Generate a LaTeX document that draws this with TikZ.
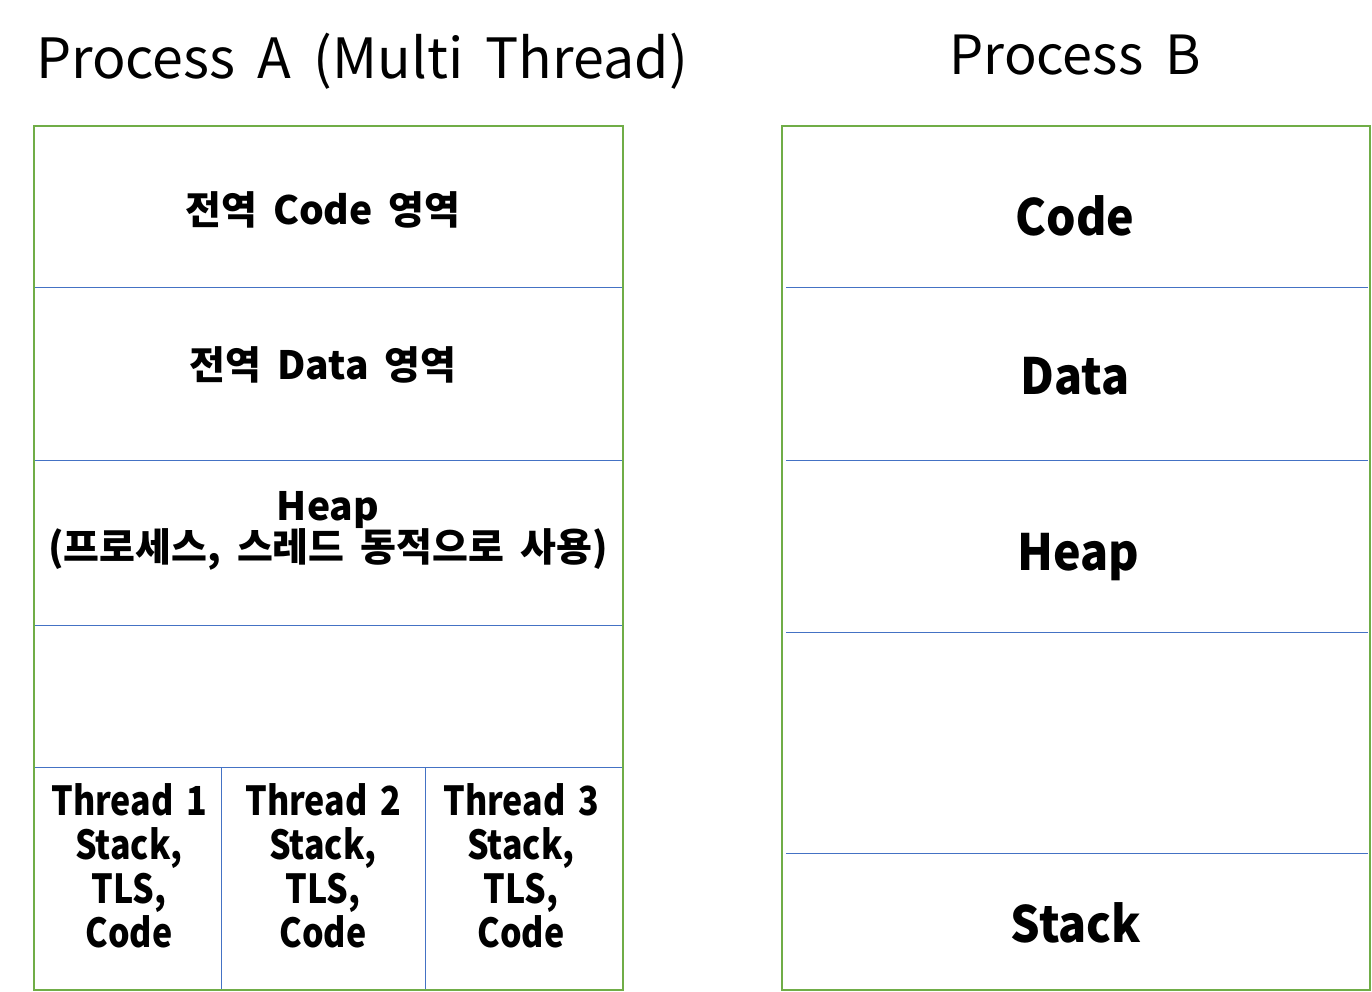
\documentclass[tikz,border=0pt]{standalone}
\usepackage{fontspec}
\setmainfont{Noto Sans CJK KR}
\newfontfamily\titlefont[WordSpace=2.1]{Noto Sans CJK KR}
\newfontfamily\lblfont[WordSpace=1.8]{Noto Sans CJK KR}
\newfontfamily\rfont[FakeStretch=0.93]{Noto Sans CJK KR}
\newfontfamily\thrfont[FakeStretch=0.85,WordSpace=1.6]{Noto Sans CJK KR}
\definecolor{boxgreen}{HTML}{70AD47}
\definecolor{lineblue}{HTML}{4472C4}
\tikzset{
  outer/.style={draw=boxgreen, line width=2.5pt},
  inner/.style={draw=lineblue, line width=1pt},
  title/.style={font=\titlefont\fontsize{54}{60}\selectfont, anchor=base, inner sep=0pt},
  lbl/.style={font=\lblfont\bfseries\fontsize{39}{44}\selectfont, anchor=base, inner sep=0pt, align=center},
  rlbl/.style={font=\rfont\bfseries\fontsize{50}{56}\selectfont, anchor=base, inner sep=0pt},
  thr/.style={font=\thrfont\bfseries\fontsize{40}{44}\selectfont, anchor=north, inner sep=0pt, align=center},
}
\begin{document}
\begin{tikzpicture}[x=1pt,y=-1pt]
\useasboundingbox (0,0) rectangle (1372,992);
% titles
\node[title, font=\titlefont\fontsize{55.5}{60}\selectfont] (ta) at (362,79) {Process A (Multi Thread)};
\node[title] (tb) at (1075,75) {Process B};
% Process A
\draw[inner] (34,287) -- (623,287);
\draw[inner] (34,460) -- (623,460);
\draw[inner] (34,625) -- (623,625);
\draw[inner] (34,767) -- (623,767);
\draw[inner] (221,767) -- (221,990);
\draw[inner] (425,767) -- (425,990);
\draw[outer] (34,126) rectangle (623,990);
\node[lbl] (acode) at (323,225) {전역 Code 영역};
\node[lbl] (adata) at (323,379) {전역 Data 영역};
\node[lbl] (aheap1) at (328,520) {Heap};
\node[lbl] (aheap2) at (328,561) {(프로세스, 스레드 동적으로 사용)};
\node[thr] (t1) at (129,783) {Thread 1\\Stack,\\TLS,\\Code};
\node[thr] (t2) at (323,783) {Thread 2\\Stack,\\TLS,\\Code};
\node[thr] (t3) at (521,783) {Thread 3\\Stack,\\TLS,\\Code};
% Process B
\draw[inner] (786,287) -- (1368,287);
\draw[inner] (786,460) -- (1368,460);
\draw[inner] (786,632) -- (1368,632);
\draw[inner] (786,853) -- (1368,853);
\draw[outer] (782,126) rectangle (1370,990);
\node[rlbl] (bcode) at (1075,236) {Code};
\node[rlbl] (bdata) at (1075,394) {Data};
\node[rlbl] (bheap) at (1078,570) {Heap};
\node[rlbl] (bstack) at (1076,942) {Stack};
\end{tikzpicture}
\end{document}
